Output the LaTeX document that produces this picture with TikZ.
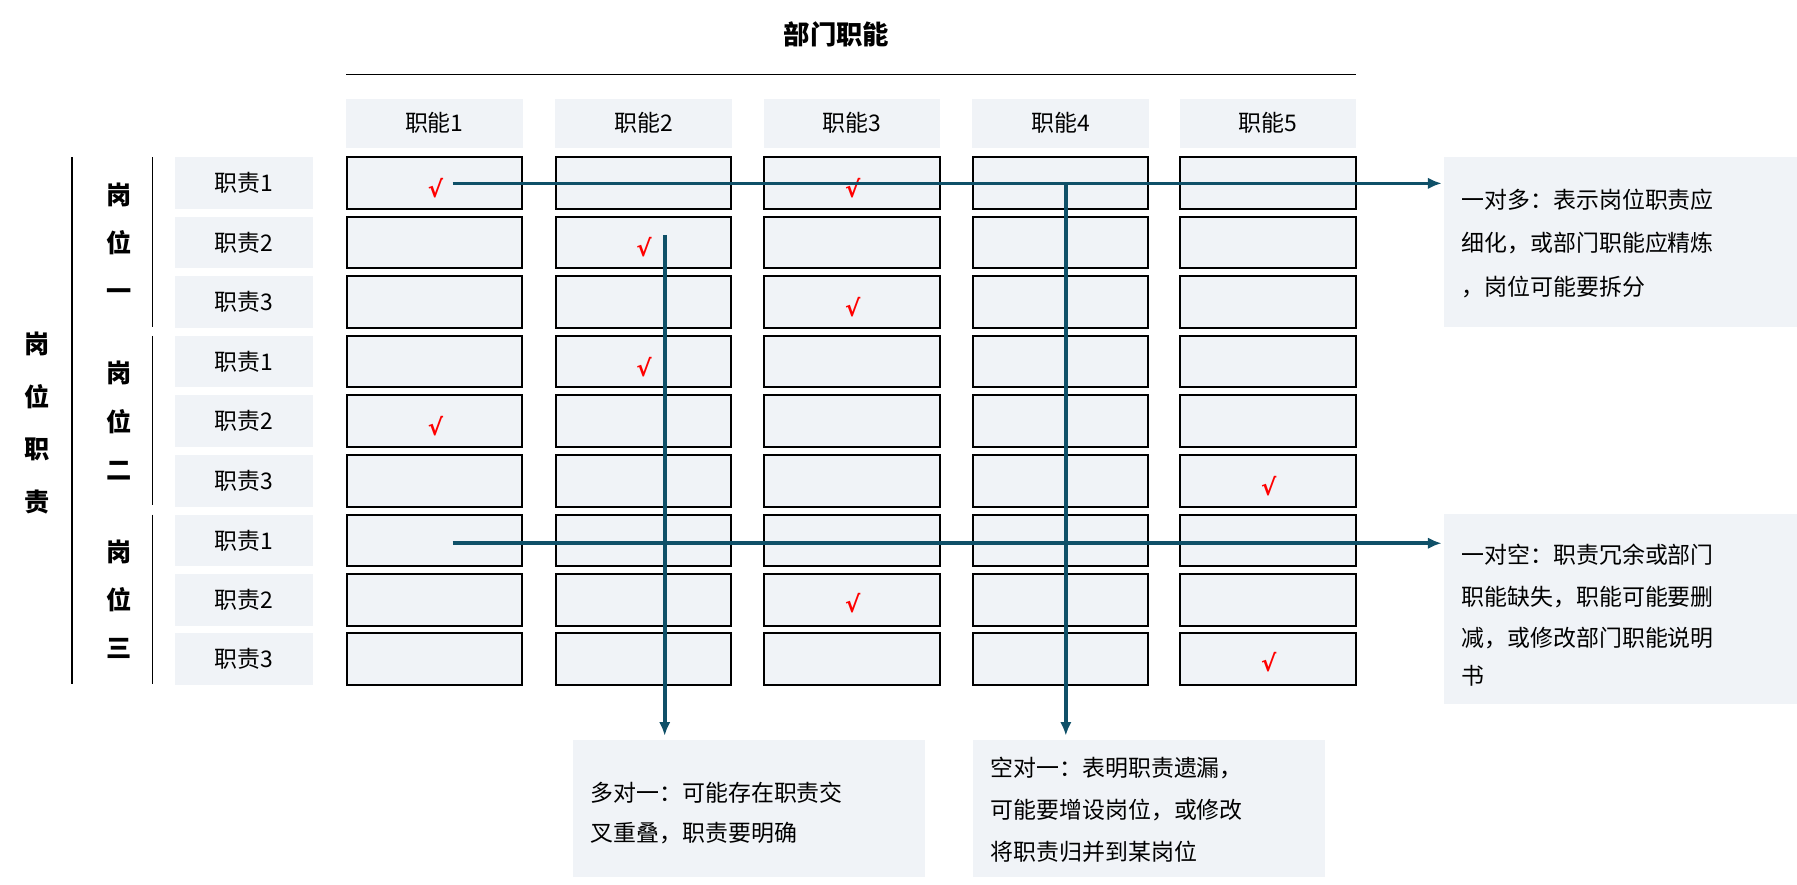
\documentclass[tikz,border=0pt]{standalone}
\usepackage{fontspec}
\usetikzlibrary{arrows.meta}
\setmainfont{Noto Sans CJK SC}
\newfontfamily\chkfont{DejaVu Sans}
\definecolor{cellbg}{HTML}{F0F3F7}
\definecolor{arr}{HTML}{0F5068}
\begin{document}
\begin{tikzpicture}[x=0.5pt,y=-0.5pt,
  hdr/.style={fill=cellbg,draw=none,minimum width=77pt,minimum height=21.5pt,inner sep=0pt,font=\fontsize{10}{12}\selectfont},
  rl/.style={fill=cellbg,draw=none,minimum width=60pt,minimum height=22.5pt,inner sep=0pt,font=\fontsize{10}{12}\selectfont},
  cell/.style={fill=cellbg,draw=black,line width=0.9pt,minimum width=76.5pt,minimum height=22.5pt,inner sep=0pt},
  chk/.style={text=red,font=\chkfont\bfseries\fontsize{10}{12}\selectfont,inner sep=0pt},
  note/.style={fill=cellbg,draw=none,inner sep=0pt,anchor=north west},
  ntext/.style={anchor=west,font=\fontsize{10}{12}\selectfont,inner sep=0pt},
  vlab/.style={font=\bfseries\fontsize{11}{12}\selectfont,align=center,inner sep=0pt},
  conn/.style={draw=arr,line width=1.6pt,-{Latex[length=6pt,width=5pt]}}]
\useasboundingbox (0,0) rectangle (1568,772);
\node[font=\bfseries\fontsize{11.5}{14}\selectfont] (title) at (730,30) {部门职能};
\draw[line width=0.8pt] (302,65) -- (1183,65);
\foreach \i/\cx in {1/379,2/561.5,3/743.5,4/925.5,5/1106.5}{
  \node[hdr] (h\i) at (\cx,107.5) {职能\i};
  \foreach \r/\cy in {1/159.5,2/211.5,3/263.5,4/315.5,5/367.5,6/419.5,7/471.5,8/523.5,9/575}{
    \node[cell] (c\r\i) at (\cx,\cy) {};
  }
}
\foreach \r/\cy/\k in {1/159.5/1,2/211.5/2,3/263.5/3,4/315.5/1,5/367.5/2,6/419.5/3,7/471.5/1,8/523.5/2,9/575/3}{
  \node[rl] (r\r) at (213,\cy) {职责\k};
}
\draw[line width=0.8pt] (133,137) -- (133,285);
\draw[line width=0.8pt] (133,293) -- (133,441);
\draw[line width=0.8pt] (133,449) -- (133,597);
\draw[line width=0.8pt] (63,137) -- (63,597);
\node[vlab] (g1) at (104,211) {岗\\[9pt]位\\[9pt]一};
\node[vlab] (g2) at (104,367) {岗\\[9pt]位\\[9pt]二};
\node[vlab] (g3) at (104,523) {岗\\[9pt]位\\[9pt]三};
\node[vlab] (gall) at (32,369) {岗\\[11pt]位\\[11pt]职\\[11pt]责};
\node[chk] (k1) at (380,164) {√};
\node[chk] (k2) at (744,164) {√};
\node[chk] (k3) at (562,216) {√};
\node[chk] (k4) at (744,268) {√};
\node[chk] (k5) at (562,320) {√};
\node[chk] (k6) at (380,372) {√};
\node[chk] (k7) at (1107,424) {√};
\node[chk] (k8) at (744,526) {√};
\node[chk] (k9) at (1107,578) {√};
% notes
\node[note,minimum width=154pt,minimum height=74pt] (n1) at (1260,137) {};
\node[ntext] (t1a) at (1275,174) {一对多：表示岗位职责应};
\node[ntext] (t1b) at (1275,212) {细化，或部门职能应精炼};
\node[ntext] (t1c) at (1275,250) {，岗位可能要拆分};
\node[note,minimum width=154pt,minimum height=83pt] (n2) at (1260,448) {};
\node[ntext] (t2a) at (1275,484) {一对空：职责冗余或部门};
\node[ntext] (t2b) at (1275,521) {职能缺失，职能可能要删};
\node[ntext] (t2c) at (1275,557) {减，或修改部门职能说明};
\node[ntext] (t2d) at (1275,590) {书};
\node[note,minimum width=153.5pt,minimum height=60pt] (n3) at (500,645) {};
\node[ntext] (t3a) at (515,692) {多对一：可能存在职责交};
\node[ntext] (t3b) at (515,727) {叉重叠，职责要明确};
\node[note,minimum width=153.5pt,minimum height=60pt] (n4) at (849,645) {};
\node[ntext] (t4a) at (864,670) {空对一：表明职责遗漏，};
\node[ntext] (t4b) at (864,707) {可能要增设岗位，或修改};
\node[ntext] (t4c) at (864,743) {将职责归并到某岗位};
% arrows
\coordinate (a1s) at (395,160);
\coordinate (a1e) at (1258,160);
\coordinate (a2s) at (930,160);
\coordinate (a2e) at (930,642);
\coordinate (a3s) at (580,205);
\coordinate (a3e) at (580,642);
\coordinate (a4s) at (395,474);
\coordinate (a4e) at (1258,474);
\draw[conn] (a2s) -- (a2e);
\draw[conn] (a3s) -- (a3e);
\draw[conn] (a1s) -- (a1e);
\draw[conn] (a4s) -- (a4e);
\end{tikzpicture}
\end{document}
